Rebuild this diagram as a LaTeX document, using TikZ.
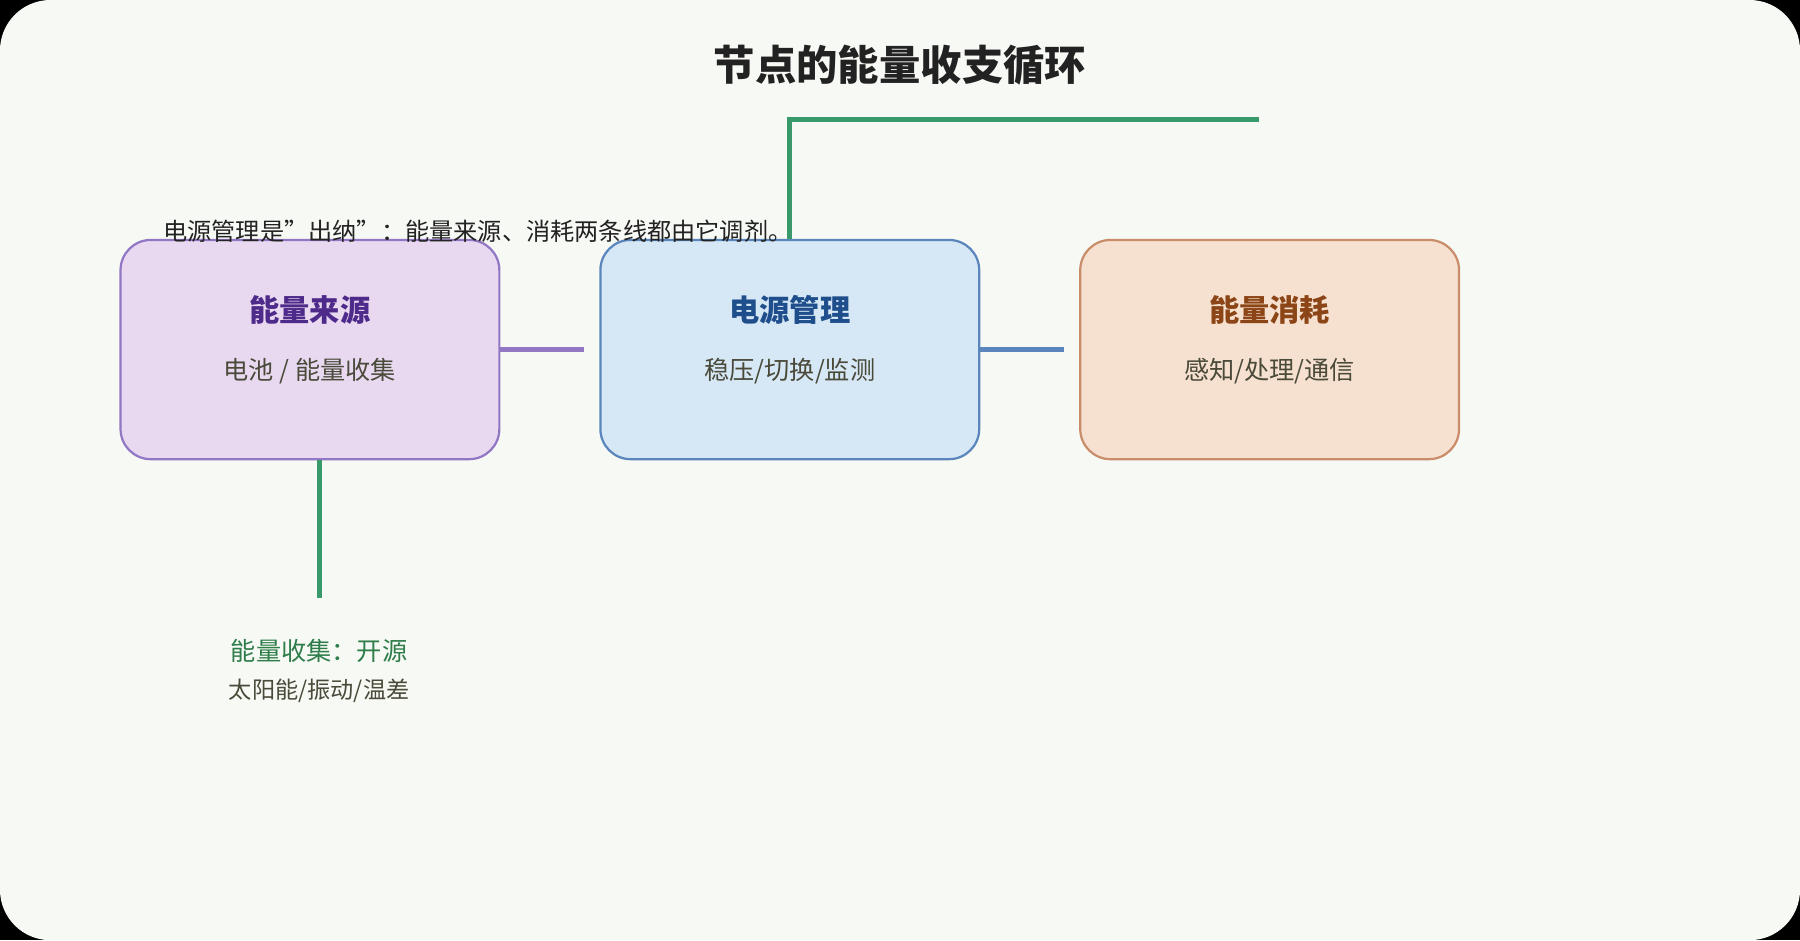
\documentclass[tikz,border=0pt]{standalone}
\usepackage{fontspec}
\setmainfont{Noto Sans CJK SC}
\usetikzlibrary{positioning}
\definecolor{bgpaper}{HTML}{F7F9F4}
\definecolor{darktext}{HTML}{222222}
\definecolor{srcfill}{HTML}{E8D9F0}
\definecolor{srcline}{HTML}{9177C4}
\definecolor{srctext}{HTML}{4E2A8A}
\definecolor{pmfill}{HTML}{D6E7F5}
\definecolor{pmline}{HTML}{5A86BD}
\definecolor{pmtext}{HTML}{1F4E8C}
\definecolor{usefill}{HTML}{F6E0CF}
\definecolor{useline}{HTML}{C98D6C}
\definecolor{usetext}{HTML}{8C4516}
\definecolor{greenline}{HTML}{389A6A}
\definecolor{greentext}{HTML}{2E7D4A}
\definecolor{subtext}{HTML}{4A4A3A}
\tikzset{
  box/.style={draw, rounded corners=15, minimum width=330*0.02cm, minimum height=191*0.02cm, line width=1.1pt},
  boxtitle/.style={font=\fontsize{15}{18}\selectfont\bfseries},
  boxsub/.style={font=\fontsize{12.5}{15}\selectfont, text=subtext},
}
\begin{document}
\begin{tikzpicture}[x=0.02cm, y=-0.02cm]
    % frame
    \fill[black] (0,0) rectangle (1568,819);
    \fill[bgpaper, rounded corners=25] (0,0) rectangle (1568,819);

    % title
    \node[font=\fontsize{20.5}{24}\selectfont\bfseries, text=darktext] (title) at (784,57) {节点的能量收支循环};

    % boxes
    \node[box, fill=srcfill, draw=srcline] (src) at (270,304.5) {};
    \node[boxtitle, text=srctext] (srct) at (270,270) {能量来源};
    \node[boxsub] (srcs) at (270,323) {电池 / 能量收集};

    \node[box, fill=pmfill, draw=pmline] (pm) at (688,304.5) {};
    \node[boxtitle, text=pmtext] (pmt) at (688,270) {电源管理};
    \node[boxsub] (pms) at (688,323) {稳压/切换/监测};

    \node[box, fill=usefill, draw=useline] (use) at (1106,304.5) {};
    \node[boxtitle, text=usetext] (uset) at (1106,270) {能量消耗};
    \node[boxsub] (uses) at (1106,323) {感知/处理/通信};

    % connectors
    \coordinate (srcend) at (509,304.5);
    \coordinate (pmend) at (927,304.5);
    \draw[srcline, line width=2.8pt] (src.east) -- (srcend);
    \draw[pmline, line width=2.8pt] (pm.east) -- (pmend);

    \coordinate (topend) at (1097,104);
    \coordinate (lowend) at (278,521);
    \draw[greenline, line width=2.4pt] (pm.north) |- (topend);
    \draw[greenline, line width=2.4pt] (src.south -| lowend) -- (lowend);

    % notes
    \node[anchor=west, font=\fontsize{12}{14}\selectfont, text=darktext] (note) at (136,201) {电源管理是"出纳"：能量来源、消耗两条线都由它调剂。};
    \node[font=\fontsize{12.5}{15}\selectfont, text=greentext] (harv) at (278,567) {能量收集：开源};
    \node[font=\fontsize{11.5}{14}\selectfont, text=subtext] (harvs) at (278,602) {太阳能/振动/温差};
\end{tikzpicture}
\end{document}
